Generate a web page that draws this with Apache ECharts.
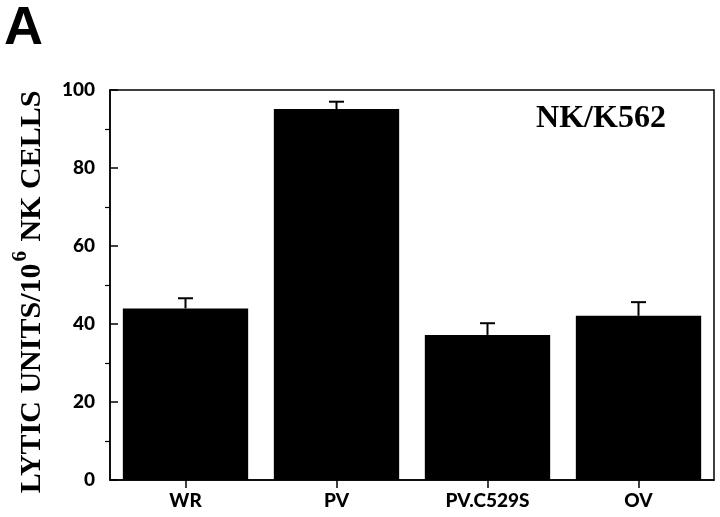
<!DOCTYPE html>
<html>
<head>
<meta charset="utf-8">
<script src="https://cdn.jsdelivr.net/npm/echarts@6/dist/echarts.min.js"></script>
<style>html,body{margin:0;padding:0;background:#fff}#c{width:720px;height:517px}</style>
</head>
<body>
<div id="c"></div>
<script>
var categories = ['WR', 'PV', 'PV.C529S', 'OV'];
var values = [44.0, 95.1, 37.2, 42.1];
var errUpper = [46.6, 97.0, 40.2, 45.6];
var yTicks = [0, 20, 40, 60, 80, 100];
var yMinorTicks = [10, 30, 50, 70, 90];

var chart = echarts.init(document.getElementById('c'));
var errData = categories.map(function (c, i) { return [i, values[i], errUpper[i]]; });

chart.setOption({
  animation: false,
  backgroundColor: '#fff',
  grid: { left: 110, right: 6, top: 90, bottom: 37, show: true, borderColor: '#000', borderWidth: 1.5, backgroundColor: 'transparent' },
  xAxis: {
    type: 'category', data: categories,
    axisLine: { lineStyle: { color: '#000', width: 1.5 } },
    axisTick: { show: true, alignWithLabel: true, length: 8, lineStyle: { color: '#000', width: 1.5 } },
    axisLabel: { color: '#000', fontFamily: 'Lato', fontWeight: 900, fontSize: 19, margin: 11 }
  },
  yAxis: [{
    type: 'value', min: 0, max: 100, interval: 20,
    splitLine: { show: false },
    axisLine: { show: true, lineStyle: { color: '#000', width: 1.5 } },
    axisTick: { show: true, inside: true, length: 8, lineStyle: { color: '#000', width: 1.5 } },
    axisLabel: { color: '#000', fontFamily: 'Lato', fontWeight: 900, fontSize: 19, margin: 15 }
  }, {
    type: 'value', min: 0, max: 100, position: 'left',
    splitLine: { show: false },
    axisLine: { show: false },
    axisTick: { show: true, inside: false, length: 5, customValues: yMinorTicks, lineStyle: { color: '#000', width: 1.2 } },
    axisLabel: { show: false }
  }],
  series: [{
    type: 'bar', data: values, barWidth: '83%',
    itemStyle: { color: '#000' }
  }, {
    type: 'custom', data: errData, z: 5,
    renderItem: function (params, api) {
      var x = api.value(0);
      var lo = api.coord([x, api.value(1)]);
      var hi = api.coord([x, api.value(2)]);
      var hw = 7.5;
      return {
        type: 'group',
        children: [
          { type: 'line', shape: { x1: lo[0], y1: lo[1], x2: hi[0], y2: hi[1] }, style: { stroke: '#000', lineWidth: 2 } },
          { type: 'line', shape: { x1: hi[0] - hw, y1: hi[1], x2: hi[0] + hw, y2: hi[1] }, style: { stroke: '#000', lineWidth: 2 } }
        ]
      };
    }
  }],
  graphic: [
    { type: 'text', left: 4, top: 2, style: { text: 'A', font: 'bold 54px "Liberation Sans"', fill: '#000' } },
    { type: 'text', x: 601, y: 119, style: { text: 'NK/K562', font: 'bold 32px "Liberation Serif"', fill: '#000', align: 'center', verticalAlign: 'middle' } },
    { type: 'text', x: 29, y: 292, rotation: Math.PI / 2,
      style: {
        text: '{m|LYTIC UNITS/10}{s|6}{m| NK CELLS}',
        align: 'center', verticalAlign: 'middle',
        rich: {
          m: { font: 'bold 30px "Liberation Serif"', fill: '#000', verticalAlign: 'bottom' },
          s: { font: 'bold 21px "Liberation Serif"', fill: '#000', verticalAlign: 'top', padding: [0, 2, 16, 2] }
        }
      }
    }
  ]
});
</script>
</body>
</html>
